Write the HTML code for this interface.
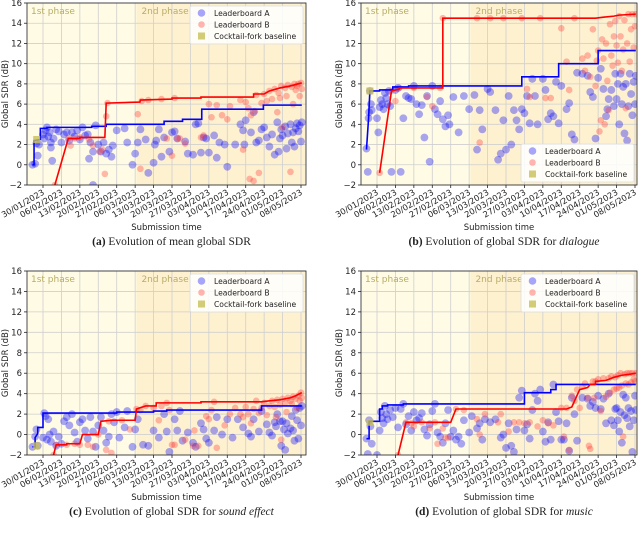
<!DOCTYPE html>
<html><head><meta charset="utf-8">
<style>
html,body{margin:0;padding:0;background:#fff;}
svg{display:block;}
text{font-family:"DejaVu Sans","Liberation Sans",sans-serif;}
.cap{font-family:"Liberation Serif","DejaVu Serif",serif;font-size:11.5px;}
</style></head>
<body>
<svg id="fig" width="640" height="533" viewBox="0 0 640 533" xmlns="http://www.w3.org/2000/svg"></svg>
<script>
// ---- shared axis data ----
const tickLabels = ["30/01/2023","06/02/2023","13/02/2023","20/02/2023","27/02/2023","06/03/2023","13/03/2023","20/03/2023","27/03/2023","03/04/2023","10/04/2023","17/04/2023","24/04/2023","01/05/2023","08/05/2023"];
const tickDays = [0,7,14,21,28,35,42,49,56,63,70,77,84,91,98];
const yTicks = [-2,0,2,4,6,8,10,12,14,16];
const phase2Start = 35.5;

// ---- panel (a) mean ----
const aBestA = [[-4,0],[-3.4,0],[-3.4,2.4],[-1,2.5],[-1,3.6],[1.5,3.6],[1.5,3.7],[18.5,3.7],[18.5,3.8],[24,3.8],[24,4.0],[46,4.0],[46,4.3],[53,4.3],[53,4.5],[60.3,4.5],[60.3,5.5],[83.7,5.5],[83.7,5.9],[98.3,5.9]];
const aBestB = [[4.5,-2],[9.6,2.6],[14,2.6],[14,2.7],[23.5,2.7],[24,6.1],[36.8,6.2],[37,6.4],[49,6.5],[49,6.6],[60,6.6],[60,6.7],[80,6.7],[80,7.0],[84,7.0],[86,7.3],[90,7.6],[94,7.8],[98.3,8.1]];
const aPtsA = [[-4,0],[-3,0.1],[-2.5,2.1],[-2,0.9],[-1.5,2],[0,3],[0.5,2.6],[1,3.4],[1.5,3.7],[2,2.8],[2.5,3.2],[3,2.2],[3.5,0.4],[3,1.7],[4,2.6],[5,3.5],[6,3.3],[7,2.2],[8,3],[9,3.2],[10,2.4],[11,3.2],[12,2.8],[13,3.4],[14,2.5],[15,3.7],[16,2.9],[17,3],[18,2.2],[19,1.3],[17.5,0.6],[19,-2],[20,3.9],[21,2],[22,1.3],[23,2.2],[24,1.1],[25,1.5],[26,0.8],[26.5,1.9],[28,3.4],[31,3.6],[32,2.2],[34,0],[35,1.1],[36,2.2],[37,3.5],[39,2.5],[40,-0.8],[42,0.2],[42.5,2],[43,2.4],[44,3.5],[45,0.8],[46,2.7],[48,1.3],[49,3.2],[50,3.3],[51,2.6],[54,2.3],[55,1.1],[57,1],[58,4],[59,4.1],[60,1.2],[61,2.7],[62,2.6],[63,1.2],[65,2.9],[66,0.7],[67,2.2],[69,2],[70,-0.2],[73,2],[75,4],[76,3.4],[76.5,2],[77,4.4],[79,3.2],[80,5.2],[81,2.2],[82,2.4],[83,3.5],[84,3.7],[85,2.7],[86,1.8],[87,3],[88,1],[89,4.2],[89.5,1.3],[90,2.6],[90.5,3.5],[91,2.9],[92,3.8],[92.5,1.6],[93,3.1],[94,4],[94.5,2.2],[95,3.2],[95.5,1.8],[96,3.6],[96.5,4.1],[97,3.3],[97.5,3.9],[98,2.3],[98.3,4.2]];
const aPtsB = [[4.5,-2],[9.6,2.6],[10.5,1.9],[12,2.6],[14,2.7],[17.5,2.5],[19,1.9],[21.5,1.3],[22.5,1.5],[23.5,-0.9],[24,4.8],[24.5,6.1],[36,5],[37,-0.4],[37.5,6.3],[40,6.4],[45,6.5],[47,2.6],[49,0.9],[50,6.6],[51,2.6],[52,2.6],[54,2.1],[60,2.7],[61,2.9],[63,6],[64,4.7],[66,5.9],[68,4.9],[70,4.5],[71,5.8],[75,6.4],[76,1.5],[77,6.2],[78,5.6],[78.5,-1.4],[79,4.9],[80,-1.6],[80.5,5.3],[81,6.9],[82,-0.8],[83,6.1],[84,7],[85,6.3],[86,7.3],[87,6.5],[88,7.5],[89,5.2],[89.5,7.1],[90,6.6],[90.5,7.8],[91,3.7],[92,7.6],[92.5,6.8],[93,7.9],[94,-0.7],[94.5,7.7],[95,6],[95.5,8],[96,7.4],[96.5,7.8],[97,8],[97.5,6.8],[98,8.1],[98.3,7.5]];

// ---- panel (b) dialogue ----
const bBestA = [[-4,1.5],[-3.2,4.6],[-2.7,7.3],[1,7.3],[1,7.4],[6,7.4],[6,7.7],[12,7.7],[12,7.8],[25,7.8],[25,7.8],[55,7.8],[55,8.7],[69,8.7],[69,10],[84,10],[84,11.3],[98.3,11.3]];
const bBestB = [[1,-0.8],[5.5,7.3],[8.5,7.5],[8.5,7.6],[25,7.6],[25,14.5],[83,14.5],[86,14.6],[90,14.7],[92,14.8],[98.3,14.9]];
const bPtsA = [[-4,1.6],[-3.2,4.6],[-3,5.2],[-2.7,7.3],[-2.3,6],[-2,5.4],[-3.5,-0.7],[0,4.6],[0.5,3.2],[1,5.7],[1.5,6.4],[2,6],[2.5,5.5],[3,7.1],[3.5,6.6],[4,6],[4.5,7.3],[5,5.8],[5.5,-0.7],[7,7.4],[8,7.6],[9,-0.7],[10,4.6],[11,6.8],[12,6.6],[13,6.5],[14,7.8],[15,6],[16,5],[17,5.9],[18,2.7],[19,6.8],[20,0.3],[21,7.8],[22,5.5],[23,5],[24,6.3],[25,4.5],[26,3.8],[27,4.9],[27.5,4],[29,6.7],[31,3.2],[33,6.8],[35,5.5],[37,6.9],[38,1.5],[39,5.4],[40,3.5],[42,7.5],[43,7.2],[45,5.4],[46,0.5],[47,1.1],[48,4.4],[49,1.5],[50,6.8],[51,2],[52,5.4],[53,4.4],[54,3.5],[55,5.5],[56,5.1],[57,6.8],[58,4.1],[59,8.5],[60,6.8],[61,4],[63,8.5],[64,7.4],[65,4.5],[66,5.1],[67,4.8],[68,8.2],[69,4.1],[70,7.8],[72,5.5],[73,6.1],[74,3],[75,2.5],[76,9.1],[78,9],[80,8.8],[81,7.2],[82,6.7],[83,2.6],[84,8.6],[85,9.5],[86,7.5],[87,4.8],[87.5,5.5],[88,6.5],[89,7.4],[90,5.8],[90.5,9],[91,6.5],[91.5,8],[92,4],[92.5,9],[93,6],[93.5,7.7],[94,3.1],[94.5,8],[95,2.4],[95.5,5.8],[96,9],[96.5,7],[97,4.9],[97.5,8.2],[98,6],[98.3,8.8]];
const bPtsB = [[1,-0.8],[5.5,7.3],[7,6.3],[8.5,7.6],[14,7.6],[19,6.7],[21,5.8],[24,7.6],[25,14.5],[38,14.5],[39,2.2],[43,14.5],[48,14.5],[55,14.5],[57,7.5],[58,6.7],[62,14.5],[64,6.6],[66,6.6],[70,13.5],[72,10.2],[73,7.4],[75,14.5],[78,10.5],[79,9.3],[80,10.8],[81,8.7],[82,13.4],[83,7.8],[83.5,10.3],[84,11.3],[84.5,3.3],[85,4.4],[85.5,12.4],[86,10.5],[86.5,4],[87,12],[87.5,8.3],[88,5.4],[88.5,13.9],[89,10.8],[89.5,9.8],[90,12.7],[90.5,14.2],[91,11.8],[91.5,10.1],[92,14.7],[92.5,12.7],[93,9.3],[93.5,11.4],[94,14.3],[94.5,5.6],[95,12],[95.5,14.9],[96,10.2],[96.5,13.4],[97,14.9],[97.5,11.6],[98,13.7],[98.3,14.9]];

// ---- panel (c) sound effect ----
const cBestA = [[-4,-1.2],[-3,-1.2],[-3,-0.3],[-2,0.1],[-2,0.7],[0,0.7],[0,2.1],[28,2.1],[28,2.2],[42,2.2],[42,2.3],[47,2.3],[47,2.4],[83,2.4],[83,2.8],[98.3,2.8]];
const cBestB = [[4,-2],[5,-1],[9,-1],[9,-0.9],[14,-0.9],[15,0],[21,0],[22,1.3],[26,1.4],[35,1.4],[35.5,2.5],[39,2.8],[43,2.8],[43,3.1],[60,3.1],[60,3.2],[83,3.2],[86,3.3],[90,3.4],[94,3.6],[96,3.8],[98.3,4.1]];
const cPtsA = [[-4,-1.2],[-3,-0.2],[-2.5,0.5],[-2,-1.1],[0,-0.3],[0.5,2.1],[1,1.8],[1.5,-0.5],[2,1.5],[2.5,0],[3,-0.7],[4,0.3],[5,-1.1],[6,-0.2],[7,-0.9],[8,1.3],[9,1.7],[10,0.9],[11,2],[12,0.2],[13,-0.7],[14,1.2],[15,1.5],[16,0.4],[17,-0.4],[18,1.7],[19,0.3],[20,-1.2],[21,0.9],[22,1.7],[23,0.4],[24,-0.8],[25,-0.2],[26,2],[27,1.2],[28,2.2],[29,-0.3],[31,0.7],[32,2.3],[34,-1.2],[35,0.5],[36,1.5],[38,-1],[40,-1.1],[42,0.4],[44,-0.3],[46,2],[47,0.3],[48,-1.7],[50,1.5],[51,0.4],[52,2.3],[53,-0.6],[55,0.2],[57,-0.8],[58,-1.2],[60,1.1],[61,0.5],[62,-0.4],[63,-0.8],[65,0.4],[66,1.7],[68,0],[70,1.5],[72,-0.3],[74,1.5],[76,0.7],[78,0.1],[79,-0.2],[80,1.5],[82,0.3],[83,2.3],[85,1],[86,0.2],[87,-0.1],[88,1.2],[88.5,0.8],[89,2],[90,1.3],[90.5,-1.1],[91,1.3],[91.5,0.5],[92,-1.5],[92.5,1.1],[93,0.1],[94,0.6],[94.5,1.8],[95,0.4],[95.5,-0.6],[96,2.4],[96.5,1.4],[97,-0.4],[97.5,2.6],[98,0.9],[98.3,2.8]];
const cPtsB = [[4,-2],[5,-1],[9,-1],[12,-0.9],[14,-1],[17,-1],[19,-1.2],[21,0],[24,-1.5],[25,1.3],[26,-1.8],[30,1.4],[33,0.5],[35.5,2.5],[37,2.4],[39,2.8],[42,2.6],[44,1.4],[45,2.8],[47,3.1],[48,2.4],[49,-1],[50,-1],[54,-0.5],[57,-1.1],[57.5,0.4],[59,-1.1],[62,1.8],[63,1.5],[64,2.4],[65,3.2],[66,-1.3],[69,0.9],[71,2],[73,2.6],[75,2],[76,1.7],[77,2.7],[78,2],[79,1.1],[80,2.5],[81,3.3],[82,2.1],[83,2.6],[84,3.1],[85,1.9],[86,2.8],[87,3.3],[88,2.7],[88.5,1.7],[89,3.4],[90,2.9],[90.5,-0.5],[91,3.5],[92,3.1],[92.5,2.2],[93,3.6],[94,3.3],[94.5,3],[95,3.7],[96,3.5],[96.5,2.6],[97,3.8],[97.5,3.3],[98,4.1],[98.3,3.6]];

// ---- panel (d) music ----
const dBestA = [[-4,-0.4],[-3,-0.4],[-3,1.3],[1,1.3],[1,2.5],[2,2.5],[2,2.8],[4,2.8],[4,2.9],[10,2.9],[10,3.0],[56,3.0],[56,4.1],[66,4.1],[66,4.4],[68,4.4],[68,4.9],[98.3,4.9]];
const dBestB = [[8,-2],[11,1.2],[28,1.2],[30,2.5],[72,2.5],[74,2.7],[77,4.4],[80,4.6],[81,4.9],[83,4.9],[83,5.2],[87,5.3],[90,5.6],[93,5.8],[96,5.9],[98.3,6.0]];
const dPtsA = [[-4,-0.4],[-3,1.4],[-2.5,0.8],[-2,-0.9],[-3.5,-1.9],[0,-2],[1,0.4],[1.5,2.2],[2,1.6],[2.5,1.1],[3,2.8],[3.5,2],[4,1.5],[5,2.4],[6,1.7],[7,2.6],[8,0.7],[9,2.5],[10,3],[11,1],[12,1.8],[13,0.4],[14,2.2],[15,1.4],[16,1.6],[17,2.1],[18,0.5],[19,-0.1],[20,1],[21,2.3],[22,3],[23,0.2],[24,-0.2],[25,-0.8],[26,1.1],[27,2.4],[28,-0.2],[29,0.4],[30,-0.5],[31,-0.2],[32,-0.9],[33,1.4],[35,0.2],[36,1.8],[38,0.6],[39,1.1],[40,-0.5],[41,1.5],[43,1.2],[45,1.5],[47,-0.3],[48,0],[49,-1.3],[50,1.1],[51,-1.1],[52,-1.7],[53,0.5],[54,3.6],[55,4.3],[56,0.4],[57,1],[58,-0.4],[59,2.4],[60,4],[61,3.3],[62,4.4],[63,0.3],[64,-0.7],[65,1.2],[66,-0.5],[67,4.9],[68,2.2],[69,1.3],[70,-0.5],[71,-0.5],[72,1.1],[73,-1.6],[74,3.6],[75,2],[76,-0.6],[78,3.6],[80,3.5],[81,2.8],[82,3.2],[83,2.6],[84,3.8],[85,2.5],[86,3.5],[87,1.1],[88,4],[89,1.4],[90,0.9],[90.5,2.5],[91,2.6],[91.5,1.4],[92,0.3],[92.5,2.2],[93,-0.8],[93.5,3.9],[94,1.9],[94.5,3.6],[95,1.6],[95.5,2.6],[96,0.8],[96.5,2.3],[97,-1.7],[97.5,1.4],[98,3.8],[98.3,2.4]];
const dPtsB = [[8,-2],[11,1.2],[13,1.1],[14,0.8],[17,1.2],[20,0.6],[22,1.2],[23,-0.9],[25,0.6],[26,-0.3],[27,-0.3],[30,2.5],[33,2.4],[38,1.5],[39,0],[41,2],[46,1.2],[47,2],[50,0.3],[52,1.2],[54,1.2],[56,1.1],[58,1.2],[61,0.8],[63,1.4],[65,1.1],[67,0.9],[70,2.6],[71,-0.2],[72,2.6],[73,-1.5],[74,3.8],[75,3.3],[76,4.4],[77,2.6],[78,4.7],[79,5],[80,3.6],[80.5,-1.1],[81,-1.4],[82,5.2],[82.5,3.6],[83,5.2],[84,5.4],[85,2.3],[86,5.5],[87,3.7],[88,5.5],[88.5,4.1],[89,5.7],[90,4.4],[90.5,5.6],[91,4.5],[91.5,5.8],[92,4.6],[92.5,6],[93,4.8],[93.5,-0.2],[94,5.9],[94.5,5],[95,6],[95.5,4.9],[96,6],[96.5,5.1],[97,6],[97.5,5.4],[98,5.2],[98.3,6]];

// ---- rendering ----
const NS = "http://www.w3.org/2000/svg";
const svg = document.getElementById("fig");
function mk(tag, attrs, parent){ const e=document.createElementNS(NS,tag); for(const k in attrs) e.setAttribute(k,attrs[k]); (parent||svg).appendChild(e); return e; }

const panels = [
 {id:"a", L:27, R:306, T:3, B:185, x0:43, bestA:aBestA, bestB:aBestB, ptsA:aPtsA, ptsB:aPtsB, base:[-2.4,2.5], legend:"top", cap:["(a)"," Evolution of mean global SDR",""], capY:245},
 {id:"b", L:361, R:637, T:3, B:185, x0:377, bestA:bBestA, bestB:bBestB, ptsA:bPtsA, ptsB:bPtsB, base:[-2.7,7.3], legend:"bottom", cap:["(b)"," Evolution of global SDR for ","dialogue"], capY:245},
 {id:"c", L:27, R:306, T:271, B:455, x0:43, bestA:cBestA, bestB:cBestB, ptsA:cPtsA, ptsB:cPtsB, base:[-2.4,-1.1], legend:"top", cap:["(c)"," Evolution of global SDR for ","sound effect"], capY:515},
 {id:"d", L:361, R:637, T:271, B:455, x0:377, bestA:dBestA, bestB:dBestB, ptsA:dPtsA, ptsB:dPtsB, base:[-2.7,1.2], legend:"top", cap:["(d)"," Evolution of global SDR for ","music"], capY:515}
];
const pxPerDay = 258/98;

panels.forEach(p=>{
  const g = mk("g",{});
  
  
  const xs = d => p.x0 + d*pxPerDay;
  const ys = v => p.B - (v+2)/18*(p.B-p.T);
  const clipId = "clip"+p.id;
  const cp = mk("clipPath",{id:clipId},g); mk("rect",{x:p.L,y:p.T,width:p.R-p.L,height:p.B-p.T},cp);
  const bg1 = mk("rect",{x:p.L,y:p.T,width:xs(phase2Start)-p.L,height:p.B-p.T,fill:"#fffbe4"},g);
   
  const bg2 = mk("rect",{x:xs(phase2Start),y:p.T,width:p.R-xs(phase2Start),height:p.B-p.T,fill:"#fef1d0"},g);
   
  tickDays.forEach(d=>mk("line",{x1:xs(d),x2:xs(d),y1:p.T,y2:p.B,stroke:"#cfcfcf","stroke-width":0.8},g));
  yTicks.forEach(v=>mk("line",{x1:p.L,x2:p.R,y1:ys(v),y2:ys(v),stroke:"#cfcfcf","stroke-width":0.8},g));
  const t1 = mk("text",{x:p.L+4,y:p.T+11,"font-size":9,fill:"#b8ad6a"},g); t1.textContent="1st phase";
   
  const t2 = mk("text",{x:xs(phase2Start)+5,y:p.T+11,"font-size":9,fill:"#b8ad6a"},g); t2.textContent="2nd phase";
   
  const plot = mk("g",{"clip-path":"url(#"+clipId+")"},g);
  p.ptsA.forEach(q=>{ const c=mk("circle",{cx:xs(q[0]),cy:ys(q[1]),r:3.9,fill:"#0000ff","fill-opacity":0.34},plot);
      });
  p.ptsB.forEach(q=>{ const c=mk("circle",{cx:xs(q[0]),cy:ys(q[1]),r:3.3,fill:"#ff2a2a","fill-opacity":0.32},plot);
      });
  const la = mk("polyline",{points:p.bestA.map(q=>xs(q[0])+","+ys(q[1])).join(" "),fill:"none",stroke:"#0000ff","stroke-width":1.6},plot);
   
  const lb = mk("polyline",{points:p.bestB.map(q=>xs(q[0])+","+ys(q[1])).join(" "),fill:"none",stroke:"#ff0000","stroke-width":1.6},plot);
   
  const bs = mk("rect",{x:xs(p.base[0])-3.5,y:ys(p.base[1])-3.5,width:7,height:7,fill:"#c8bf55","fill-opacity":0.8},plot);
   
  mk("rect",{x:p.L,y:p.T,width:p.R-p.L,height:p.B-p.T,fill:"none",stroke:"#222","stroke-width":0.8},g);
  yTicks.forEach(v=>{ mk("line",{x1:p.L-3,x2:p.L,y1:ys(v),y2:ys(v),stroke:"#222","stroke-width":0.8},g);
    const t=mk("text",{x:p.L-5,y:ys(v)+3,"font-size":8.5,"text-anchor":"end",fill:"#222"},g); t.textContent=(v<0?"\u2212"+(-v):v);
      });
  tickDays.forEach((d,i)=>{ mk("line",{x1:xs(d),x2:xs(d),y1:p.B,y2:p.B+3,stroke:"#222","stroke-width":0.8},g);
    const t=mk("text",{x:xs(d)+2,y:p.B+9,"font-size":8.3,"text-anchor":"end",fill:"#222",transform:"rotate(-30 "+(xs(d)+2)+" "+(p.B+9)+")"},g);
    t.textContent=tickLabels[i];
      });
  const yl = mk("text",{x:0,y:0,"font-size":8.5,"text-anchor":"middle",fill:"#222",transform:"translate("+(p.L-19)+","+((p.T+p.B)/2)+") rotate(-90)"},g);
  yl.textContent="Global SDR (dB)";  
  const xl = mk("text",{x:(p.L+p.R)/2,y:p.B+45,"font-size":8.5,"text-anchor":"middle",fill:"#222"},g);
  xl.textContent="Submission time";  
  const lw=113, lh=38, lx=p.R-lw-3, ly = p.legend==="top" ? p.T+3 : p.B-lh-3;
  const lg = mk("g",{},g);  
  mk("rect",{x:lx,y:ly,width:lw,height:lh,rx:2,fill:"#fff","fill-opacity":0.85,stroke:"#ddd","stroke-width":0.8},lg);
  const items=[["Leaderboard A","#0000ff","c"],["Leaderboard B","#ff2a2a","c2"],["Cocktail-fork baseline","#c8bf55","s"]];
  items.forEach((it,i)=>{ const yy=ly+7+i*11.5;
    const e = mk("g",{},lg);  
    if(it[2]==="s") mk("rect",{x:lx+8,y:yy-3.5,width:7,height:7,fill:it[1],"fill-opacity":0.8},e);
    else mk("circle",{cx:lx+11.5,cy:yy,r:it[2]==="c"?3.8:3.3,fill:it[1],"fill-opacity":0.35},e);
    const t=mk("text",{x:lx+24,y:yy+2.8,"font-size":7.6,fill:"#222"},e); t.textContent=it[0]; });
  const cap = mk("text",{x:(p.L+p.R)/2+5,y:p.capY,"text-anchor":"middle",class:"cap",fill:"#222"},g);
   
  const s1=mk("tspan",{"font-weight":"bold"},cap); s1.textContent=p.cap[0];
  const s2=mk("tspan",{},cap); s2.textContent=p.cap[1];
  if(p.cap[2]){ const s3=mk("tspan",{"font-style":"italic"},cap); s3.textContent=p.cap[2]; }
});
</script>
</body></html>
